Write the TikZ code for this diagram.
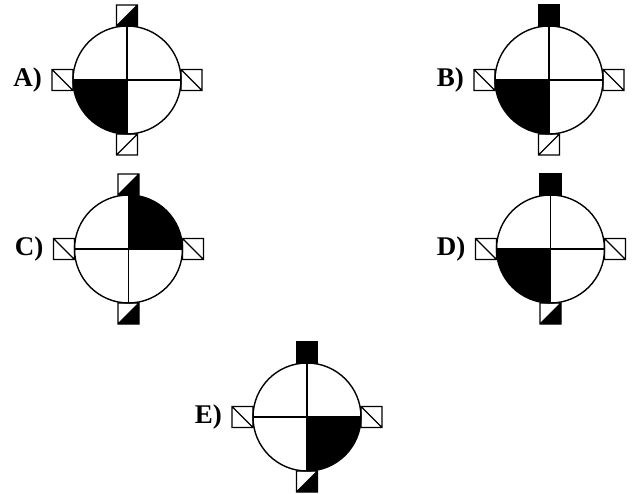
\documentclass[tikz,border=0pt]{standalone}
\usepackage{fontspec}
\setmainfont{Liberation Serif}
\tikzset{
  x=1pt,y=1pt,
  ring/.style={line width=1.4pt},
  sq/.style={line width=1.1pt},
  blk/.style={fill=black},
  lab/.style={font=\bfseries\fontsize{27}{27}\selectfont, inner sep=0pt, anchor=east}
}
% #1 label, #2 cx, #3 cy, #4 quadrant start angle, #5 top full (1) or half (0), #6 bottom half filled (1) or empty (0)
\newcommand\mydial[6]{%
\begin{scope}[shift={(#2,#3)}]
  \fill[blk] (0,0) -- (#4:54) arc[start angle=#4, end angle=#4+90, radius=54] -- cycle;
  \draw[ring] (0,0) circle[radius=54];
  \draw[sq] (-54,0) -- (54,0) (0,-54) -- (0,54);
  % top square
  \ifnum#5=1
    \filldraw[sq,blk] (-10.5,54) rectangle (10.5,75);
  \else
    \fill[blk] (-10.5,54) -- (10.5,54) -- (10.5,75) -- cycle;
    \draw[sq] (-10.5,54) rectangle (10.5,75) (-10.5,54) -- (10.5,75);
  \fi
  % bottom square
  \ifnum#6=1
    \fill[blk] (-10.5,-75) -- (10.5,-75) -- (10.5,-54) -- cycle;
  \fi
  \draw[sq] (-10.5,-75) rectangle (10.5,-54) (-10.5,-75) -- (10.5,-54);
  % side squares
  \draw[sq] (-75,-10.5) rectangle (-54,10.5) (-75,10.5) -- (-54,-10.5);
  \draw[sq] (54,-10.5) rectangle (75,10.5) (54,10.5) -- (75,-10.5);
  \node[lab] (lab#1) at (-85,0) {#1)};
\end{scope}}
\begin{document}
\begin{tikzpicture}
  \fill[white] (0,0) rectangle (634,493);
  \useasboundingbox (0,0) rectangle (634,493);
  \mydial{A}{127}{413}{180}{0}{0}
  \mydial{B}{549}{413}{180}{1}{0}
  \mydial{C}{128.5}{244}{0}{0}{1}
  \mydial{D}{550.5}{244}{180}{1}{1}
  \mydial{E}{307}{76}{270}{1}{1}
\end{tikzpicture}
\end{document}
